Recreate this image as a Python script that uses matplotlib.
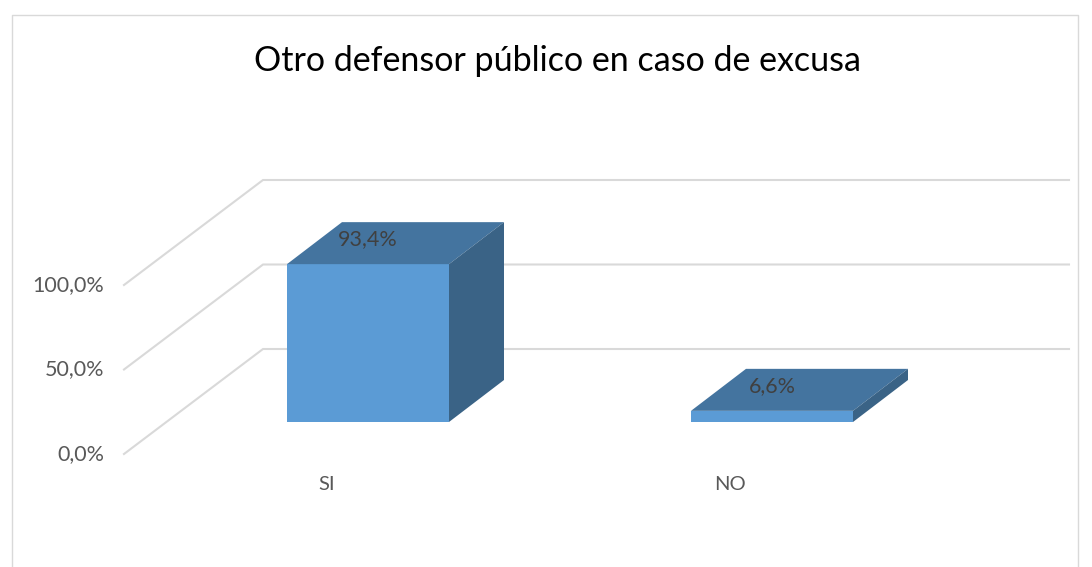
import numpy as np
import matplotlib
matplotlib.use('Agg')
import matplotlib.pyplot as plt
from matplotlib.patches import Polygon

categories = ['SI', 'NO']
values = [93.4, 6.6]
value_labels = ['93,4%', '6,6%']
tick_values = [0, 50, 100]
tick_labels = ['0,0%', '50,0%', '100,0%']
title = 'Otro defensor público en caso de excusa'

W, H = 1092, 567
plt.rcParams['font.family'] = ['Lato', 'DejaVu Sans']

fig = plt.figure(figsize=(W / 100, H / 100), dpi=100)
ax = fig.add_axes([0, 0, 1, 1])
ax.set_xlim(0, W)
ax.set_ylim(H, 0)
ax.axis('off')

# escala en pixeles
y0 = 422
dx, dy = 55, -42  # profundidad 3D


def front_y(v):
    return y0 - v * 1.69


# borde del grafico
ax.plot([12, 12, 1078, 1078], [567, 15, 15, 567], color='#d9d9d9', lw=1)

# rejilla
for t, lab in zip(tick_values, tick_labels):
    yb = 454 - t * 1.69
    ax.plot([124, 263, 1069], [yb, yb - 105, yb - 105], color='#d9d9d9', lw=1.5, zorder=1)
    ax.text(104, yb, lab, ha='right', va='center', fontsize=15.5, color='#595959')

x_left = [287, 691]
bar_w = 162
colors = ('#5b9bd5', '#44749f', '#3a6386')
for i in range(len(values)):
    x = x_left[i]
    top = front_y(values[i])
    ax.add_patch(Polygon([(x, top), (x + bar_w, top), (x + bar_w, y0), (x, y0)], color=colors[0], lw=0, zorder=3))
    ax.add_patch(Polygon([(x, top), (x + dx, top + dy), (x + bar_w + dx, top + dy), (x + bar_w, top)],
                         color=colors[1], lw=0, zorder=3))
    ax.add_patch(Polygon([(x + bar_w, top), (x + bar_w + dx, top + dy), (x + bar_w + dx, y0 + dy), (x + bar_w, y0)],
                         color=colors[2], lw=0, zorder=3))
    ax.text(x + 81, top - 25, value_labels[i], ha='center', va='center', fontsize=15.5, color='#404040', zorder=4)
    ax.text(x + 39.5, 484, categories[i], ha='center', va='center', fontsize=14.5, color='#595959')

ax.text(558, 61, title, ha='center', va='center', fontsize=24.5, color='black')

fig.savefig('out.png', dpi=100)
